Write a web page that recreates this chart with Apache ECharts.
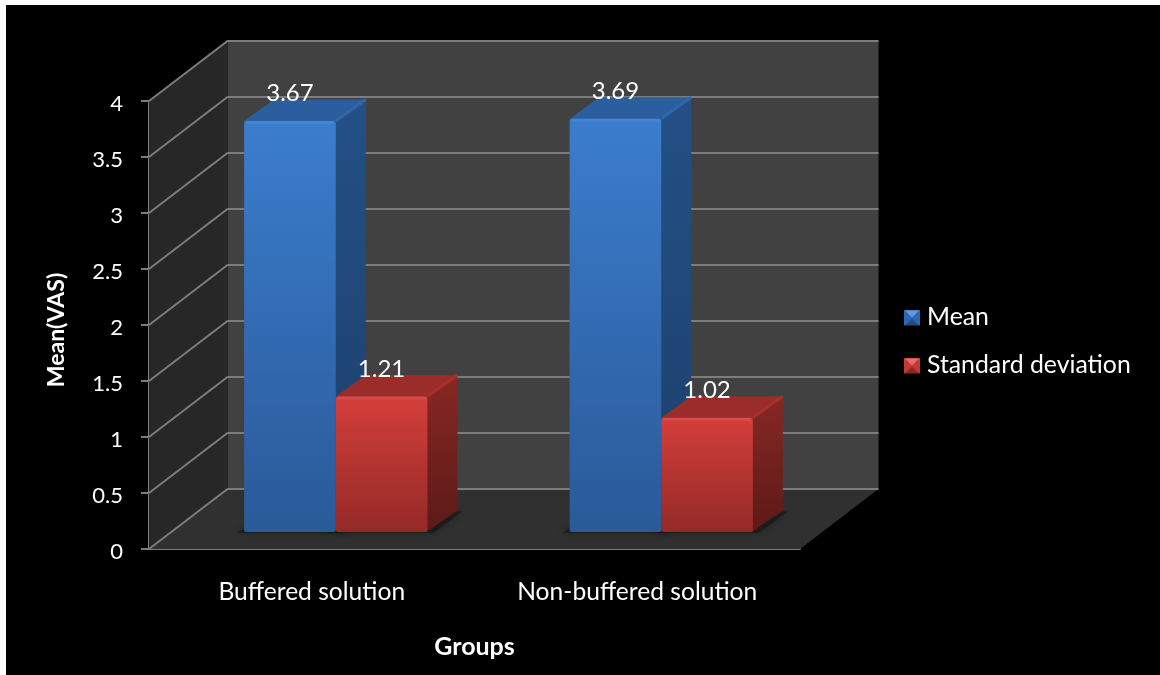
<!DOCTYPE html>
<html>
<head>
<meta charset="utf-8">
<title>Mean(VAS) by group</title>
<style>
  html, body { margin: 0; padding: 0; background: #fff; }
  #chart { width: 1160px; height: 675px; }
</style>
<script src="https://cdn.jsdelivr.net/npm/echarts@6/dist/echarts.min.js"></script>
</head>
<body>
<div id="chart"></div>
<script>
// Values shown on the chart
const groups = ['Buffered solution', 'Non-buffered solution'];
const meanValues = [3.67, 3.69];
const sdValues = [1.21, 1.02];
const yTicks = [0, 0.5, 1, 1.5, 2, 2.5, 3, 3.5, 4];

// Oblique projection of the box: full depth of the plot, and where bars sit inside it
const DEPTH_X = 78.5, DEPTH_Y = -60;
const BAR_OFFSET_X = 24, BAR_OFFSET_Y = -17;
const BAR_SIDE_X = 30, BAR_SIDE_Y = -21.5;
const BAR_BAND_SHARE = 0.2815;
const FONT = 'Lato, "Open Sans", sans-serif';
const GRID_LINE = '#7c7c7c';

const palette = {
  blue: { frontTop: '#3b7dce', frontBottom: '#2a5a98', sideTop: '#245086', sideBottom: '#1c3f6b',
          top: '#2b5e9e', edge: '#4a8ad8', ridge: '#3569ab' },
  red:  { frontTop: '#d43e3a', frontBottom: '#942a27', sideTop: '#872824', sideBottom: '#5c1a17',
          top: '#9a2c29', edge: '#e05450', ridge: '#ab322e' }
};

function vGradient(top, bottom) {
  return { type: 'linear', x: 0, y: 0, x2: 0, y2: 1,
    colorStops: [{ offset: 0, color: top }, { offset: 1, color: bottom }] };
}

function legendIcon(light, mid, dark) {
  const svg = '<svg xmlns="http://www.w3.org/2000/svg" width="16" height="16">' +
    '<rect width="16" height="16" fill="' + mid + '"/>' +
    '<path d="M1 16L8 9L15 16Z" fill="' + dark + '"/>' +
    '<path d="M1 1L15 1L8 8Z" fill="' + light + '"/></svg>';
  return 'image://data:image/svg+xml;charset=utf-8,' + encodeURIComponent(svg);
}

// Screen box of one bar, derived from the axis scales
function barBox(api, slot) {
  const base = api.coord([api.value(0), 0]);
  const head = api.coord([api.value(0), api.value(1)]);
  const w = api.size([1, 0])[0] * BAR_BAND_SHARE;
  const x0 = base[0] + slot * w + BAR_OFFSET_X;
  return { x0, x1: x0 + w, yBase: base[1] + BAR_OFFSET_Y, yTop: head[1] + BAR_OFFSET_Y,
           dx: BAR_SIDE_X, dy: BAR_SIDE_Y };
}

function renderBar(slot, colors) {
  return function (params, api) {
    const b = barBox(api, slot);
    const value = api.value(1);
    return {
      type: 'group',
      children: [
        { type: 'polygon', shape: { points: [[b.x1 - 1, b.yTop], [b.x1 + b.dx, b.yTop + b.dy], [b.x1 + b.dx, b.yBase + b.dy], [b.x1 - 1, b.yBase]] },
          style: { fill: vGradient(colors.sideTop, colors.sideBottom) } },
        { type: 'polygon', shape: { points: [[b.x0, b.yTop], [b.x1, b.yTop], [b.x1 + b.dx, b.yTop + b.dy], [b.x0 + b.dx, b.yTop + b.dy]] },
          style: { fill: colors.top } },
        { type: 'line', shape: { x1: b.x1, y1: b.yTop, x2: b.x1 + b.dx, y2: b.yTop + b.dy },
          style: { stroke: colors.ridge, lineWidth: 3, opacity: 0.8 } },
        { type: 'rect', shape: { x: b.x0, y: b.yTop, width: b.x1 - b.x0, height: b.yBase - b.yTop, r: 2 },
          style: { fill: vGradient(colors.frontTop, colors.frontBottom) } },
        { type: 'line', shape: { x1: b.x0 + 2, y1: b.yTop + 1.5, x2: b.x1 - 2, y2: b.yTop + 1.5 },
          style: { stroke: colors.edge, lineWidth: 3, opacity: 0.55 } },
        { type: 'text', x: (b.x0 + b.x1) / 2, y: b.yTop - 27.5,
          style: { text: value.toFixed(2), fill: '#fff', font: '400 24px ' + FONT, align: 'center', verticalAlign: 'middle' } }
      ]
    };
  };
}

function renderShadow(slot) {
  return function (params, api) {
    const b = barBox(api, slot);
    return {
      type: 'polygon',
      shape: { points: [[b.x0 - 8, b.yBase + 1], [b.x1 + 6, b.yBase + 1], [b.x1 + b.dx + 5, b.yBase + b.dy + 1], [b.x0 + b.dx, b.yBase + b.dy]] },
      style: { fill: 'rgba(20,20,20,0.55)', shadowBlur: 7, shadowColor: 'rgba(0,0,0,0.55)' }
    };
  };
}

// Back wall, side wall and floor of the plot box
function renderWalls(params, api) {
  const c = params.coordSys;
  const left = c.x, right = c.x + c.width, top = c.y, bottom = c.y + c.height;
  return {
    type: 'group',
    children: [
      { type: 'rect', shape: { x: left + DEPTH_X, y: top + DEPTH_Y, width: c.width, height: c.height }, style: { fill: '#414141' } },
      { type: 'polygon', shape: { points: [[left, top], [left + DEPTH_X, top + DEPTH_Y], [left + DEPTH_X, bottom + DEPTH_Y], [left, bottom]] }, style: { fill: '#272727' } },
      { type: 'polygon', shape: { points: [[left, bottom], [right, bottom], [right + DEPTH_X, bottom + DEPTH_Y], [left + DEPTH_X, bottom + DEPTH_Y]] }, style: { fill: '#303030' } }
    ]
  };
}

// Each gridline runs along the side wall, then across the back wall
function renderGridline(params, api) {
  const c = params.coordSys;
  const p = api.coord([0, api.value(0)]);
  const y = p[1];
  return {
    type: 'polyline',
    shape: { points: [[c.x, y], [c.x + DEPTH_X, y + DEPTH_Y], [c.x + c.width + DEPTH_X, y + DEPTH_Y]] },
    style: { stroke: GRID_LINE, lineWidth: 2, fill: 'none' }
  };
}

const toPairs = vals => vals.map((v, i) => [i, v]);

const option = {
  animation: false,
  backgroundColor: '#fff',
  graphic: [{ type: 'rect', z: -10, shape: { x: 6, y: 5, width: 1154, height: 670 }, style: { fill: '#000' }, silent: true }],
  grid: { left: 149, top: 101, width: 651, height: 448, containLabel: false },
  legend: {
    orient: 'vertical', left: 904, top: 305, padding: 0, itemWidth: 16, itemHeight: 16, itemGap: 23,
    selectedMode: false,
    textStyle: { color: '#fff', fontFamily: FONT, fontSize: 24.8, padding: [0, 0, 0, 2] },
    data: [
      { name: 'Mean', icon: legendIcon('#5c9be6', '#2f68ad', '#214c82') },
      { name: 'Standard deviation', icon: legendIcon('#ee6a66', '#c23a36', '#8e2825') }
    ]
  },
  xAxis: {
    type: 'category', data: groups,
    name: 'Groups', nameLocation: 'middle', nameGap: 85,
    nameTextStyle: { color: '#fff', fontFamily: FONT, fontWeight: 700, fontSize: 25 },
    axisLine: { lineStyle: { color: GRID_LINE, width: 2 } },
    axisTick: { show: false },
    axisLabel: { color: '#fff', fontFamily: FONT, fontSize: 24.6, margin: 31 },
    splitLine: { show: false }
  },
  yAxis: {
    type: 'value', min: 0, max: 4, interval: 0.5,
    name: 'Mean(VAS)', nameLocation: 'middle', nameGap: 81, nameRotate: 90,
    nameTextStyle: { color: '#fff', fontFamily: FONT, fontWeight: 700, fontSize: 23, padding: [0, 10, 0, 0] },
    axisLine: { show: true, lineStyle: { color: GRID_LINE, width: 2 } },
    axisTick: { show: true, length: 8, lineStyle: { color: GRID_LINE, width: 2 } },
    axisLabel: { color: '#fff', fontFamily: FONT, fontSize: 22, margin: 26, verticalAlign: 'top', lineHeight: 5,
      formatter: v => String(yTicks.find(t => t === v)) },
    splitLine: { show: false }
  },
  series: [
    { type: 'custom', name: 'walls', coordinateSystem: 'cartesian2d', silent: true, z: 1,
      clip: false, data: [[0, 0]], renderItem: renderWalls },
    { type: 'custom', name: 'gridlines', coordinateSystem: 'cartesian2d', silent: true, z: 1,
      clip: false, encode: { y: 0 }, data: yTicks.map(t => [t]), renderItem: renderGridline },
    { type: 'custom', name: 'shadow near', coordinateSystem: 'cartesian2d', silent: true, z: 1,
      clip: false, encode: { x: 0, y: 1 }, data: toPairs(meanValues), renderItem: renderShadow(-1) },
    { type: 'custom', name: 'shadow far', coordinateSystem: 'cartesian2d', silent: true, z: 1,
      clip: false, encode: { x: 0, y: 1 }, data: toPairs(sdValues), renderItem: renderShadow(0) },
    { type: 'custom', name: 'Mean', coordinateSystem: 'cartesian2d', z: 3,
      clip: false, encode: { x: 0, y: 1 }, data: toPairs(meanValues), renderItem: renderBar(-1, palette.blue) },
    { type: 'custom', name: 'Standard deviation', coordinateSystem: 'cartesian2d', z: 4,
      clip: false, encode: { x: 0, y: 1 }, data: toPairs(sdValues), renderItem: renderBar(0, palette.red) }
  ]
};

echarts.init(document.getElementById('chart'), null, { renderer: 'canvas' }).setOption(option);
</script>
</body>
</html>
